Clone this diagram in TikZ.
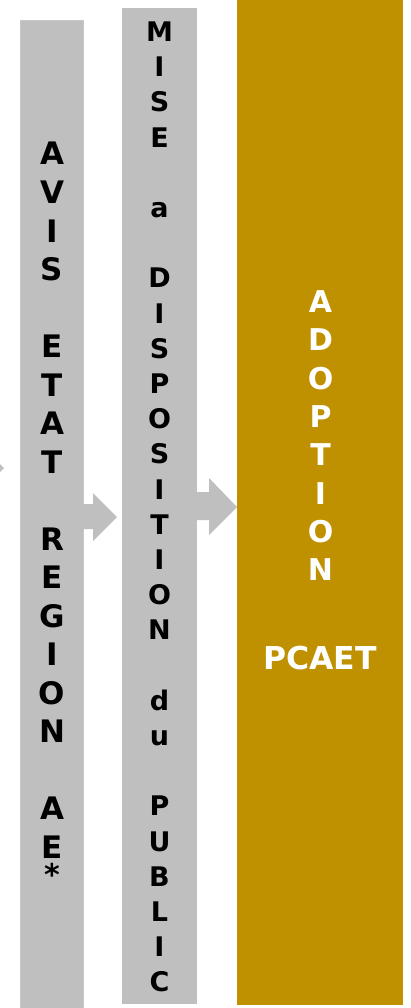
\documentclass[tikz,border=0pt]{standalone}
\usepackage{fontspec}
\setmainfont{DejaVu Sans}
\definecolor{boxgray}{HTML}{BFBFBF}
\definecolor{edgegray}{HTML}{C8C8C8}
\definecolor{gold}{HTML}{BF9000}
\tikzset{
  panel/.style={fill=boxgray, draw=none, inner sep=0pt, outer sep=0pt, anchor=north west},
  goldpanel/.style={fill=gold, draw=none, inner sep=0pt, outer sep=0pt, anchor=north west},
  blockarrow/.style={fill=boxgray, draw=none},
  letA/.style={font=\bfseries\fontsize{31}{31}\selectfont, text=black, inner sep=0pt, anchor=base},
  letB/.style={font=\bfseries\fontsize{27}{27}\selectfont, text=black, inner sep=0pt, anchor=base},
  letC/.style={font=\bfseries\fontsize{30}{30}\selectfont, text=white, inner sep=0pt, anchor=base},
  bigC/.style={font=\bfseries\fontsize{31.5}{31.5}\selectfont, text=white, inner sep=0pt, anchor=base}
}
\begin{document}
\begin{tikzpicture}[x=1pt,y=-1pt]
\useasboundingbox (0,0) rectangle (410,1008);
\clip (0,0) rectangle (410,1008);
% arrow entering from the left (behind panels)
\fill[blockarrow] (-40,456) -- (-20,456) -- (-20,444) -- (4,468) -- (-20,492) -- (-20,480) -- (-40,480) -- cycle;
% panels
\node[panel, draw=edgegray, line width=1pt, minimum width=63pt, minimum height=990pt] (b1) at (20,21) {};
\node[panel, minimum width=75pt, minimum height=996pt] (b2) at (122,8) {};
\node[goldpanel, minimum width=166pt, minimum height=1005pt] (b3) at (237,0) {};
% connectors
\fill[blockarrow] (b1.east |- 0,504) -- (93,504) -- (93,493) -- (117,517) -- (93,541) -- (93,529) -- (b1.east |- 0,529) -- cycle;
\fill[blockarrow] (b2.east |- 0,492) -- (209,492) -- (209,478) -- (b3.west |- 0,507) -- (209,535) -- (209,520) -- (b2.east |- 0,520) -- cycle;
% box 1 text
\foreach \c [count=\i from 0] in {A,V,I,S,{},E,T,A,T,{},R,E,G,I,O,N,{},A,E}
  \node[letA] (ta\i) at ({52},{165+38.5*\i}) {\c};
\node[font=\bfseries\fontsize{30}{30}\selectfont, inner sep=0pt, anchor=north] (star) at (52,863) {*};
% box 2 text
\foreach \c [count=\i from 0] in {M,I,S,E,{},a,{},D,I,S,P,O,S,I,T,I,O,N,{},d,u,{},P,U,B,L,I,C}
  \node[letB] (tb\i) at ({159.5},{41.5+35.2*\i}) {\c};
% box 3 text
\foreach \c [count=\i from 0] in {A,D,O,P,T,I,O,N}
  \node[letC] (tc\i) at ({320.5},{312.5+38.3*\i}) {\c};
\node[bigC] (pcaet) at (320,669) {PCAET};
\end{tikzpicture}
\end{document}
